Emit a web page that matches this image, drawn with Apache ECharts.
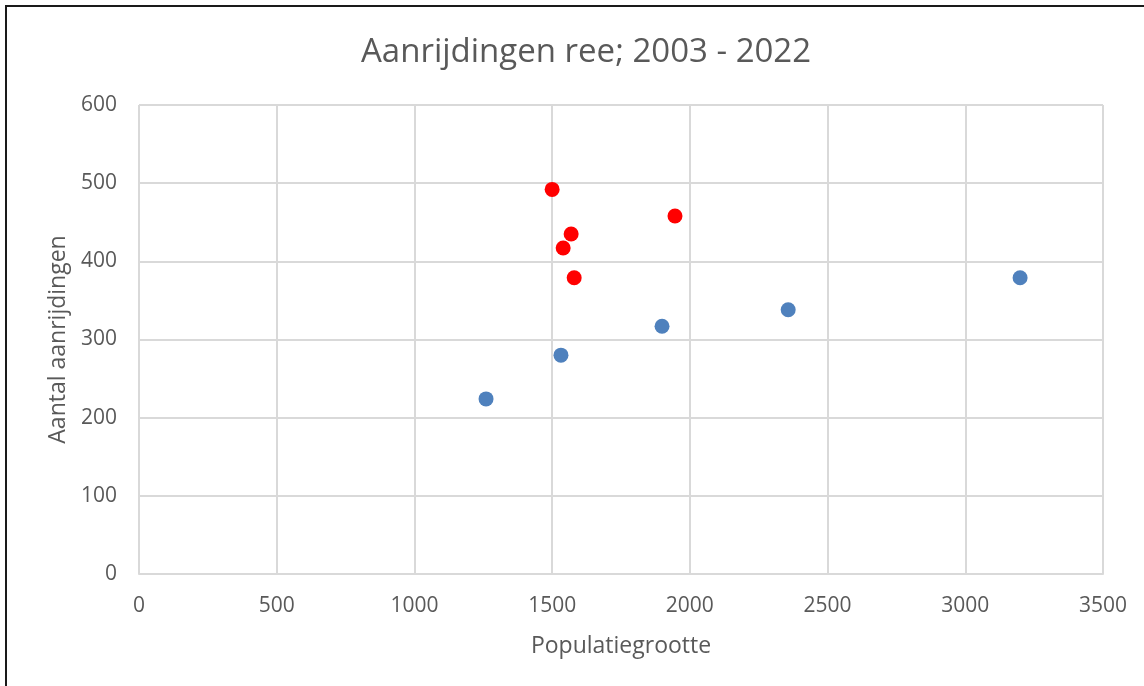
<!DOCTYPE html>
<html>
<head>
<meta charset="utf-8">
<script src="https://cdn.jsdelivr.net/npm/echarts@6/dist/echarts.min.js"></script>
<style>
  html, body { margin: 0; padding: 0; background: #fff; }
  #frame { position: absolute; left: 5px; top: 5px; width: 1139px; height: 681px;
           border-left: 2px solid #1a1a1a; border-top: 2px solid #1a1a1a; box-sizing: border-box; }
  #chart { position: absolute; left: 0; top: 0; width: 1144px; height: 686px; }
</style>
</head>
<body>
<div id="frame"></div>
<div id="chart"></div>
<script>
// populatie vs aanrijdingen
var blueX = [1260, 1532, 1899, 2357, 3199];
var blueY = [224, 280, 317, 338, 379];
var redX = [1500, 1569, 1540, 1580, 1946];
var redY = [492, 435, 417, 379, 458];

function pairs(xs, ys) {
    return xs.map(function (x, i) { return [x, ys[i]]; });
}

var chart = echarts.init(document.getElementById('chart'));
var textColor = '#595959';
var option = {
    animation: false,
    title: {
        text: 'Aanrijdingen ree; 2003 - 2022',
        left: 356,
        top: 31,
        textStyle: { color: textColor, fontSize: 33, fontWeight: 'normal', fontFamily: 'Open Sans' }
    },
    grid: { left: 139, right: 41, top: 105, bottom: 112 },
    xAxis: {
        type: 'value',
        min: 0, max: 3500, interval: 500,
        name: 'Populatiegrootte',
        nameLocation: 'middle',
        nameGap: 61,
        nameTextStyle: { color: textColor, fontSize: 23, fontFamily: 'Open Sans' },
        axisLine: { show: true, lineStyle: { color: '#d9d9d9', width: 2 } },
        axisTick: { show: false },
        axisLabel: { color: textColor, fontSize: 21, margin: 22, fontFamily: 'Open Sans',
                     formatter: function (v) { return String(v); } },
        splitLine: { show: true, lineStyle: { color: '#d9d9d9', width: 2 } }
    },
    yAxis: {
        type: 'value',
        min: 0, max: 600, interval: 100,
        name: 'Aantal aanrijdingen',
        nameLocation: 'middle',
        nameGap: 68,
        nameTextStyle: { color: textColor, fontSize: 23, fontFamily: 'Open Sans' },
        axisLine: { show: false },
        axisTick: { show: false },
        axisLabel: { color: textColor, fontSize: 21, margin: 22, fontFamily: 'Open Sans' },
        splitLine: { show: true, lineStyle: { color: '#d9d9d9', width: 2 } }
    },
    series: [
        {
            type: 'scatter',
            data: pairs(blueX, blueY),
            symbolSize: 15,
            itemStyle: { color: '#4f81bd', opacity: 1 }
        },
        {
            type: 'scatter',
            data: pairs(redX, redY),
            symbolSize: 15,
            itemStyle: { color: '#ff0000', opacity: 1 }
        }
    ]
};
chart.setOption(option);
</script>
</body>
</html>
